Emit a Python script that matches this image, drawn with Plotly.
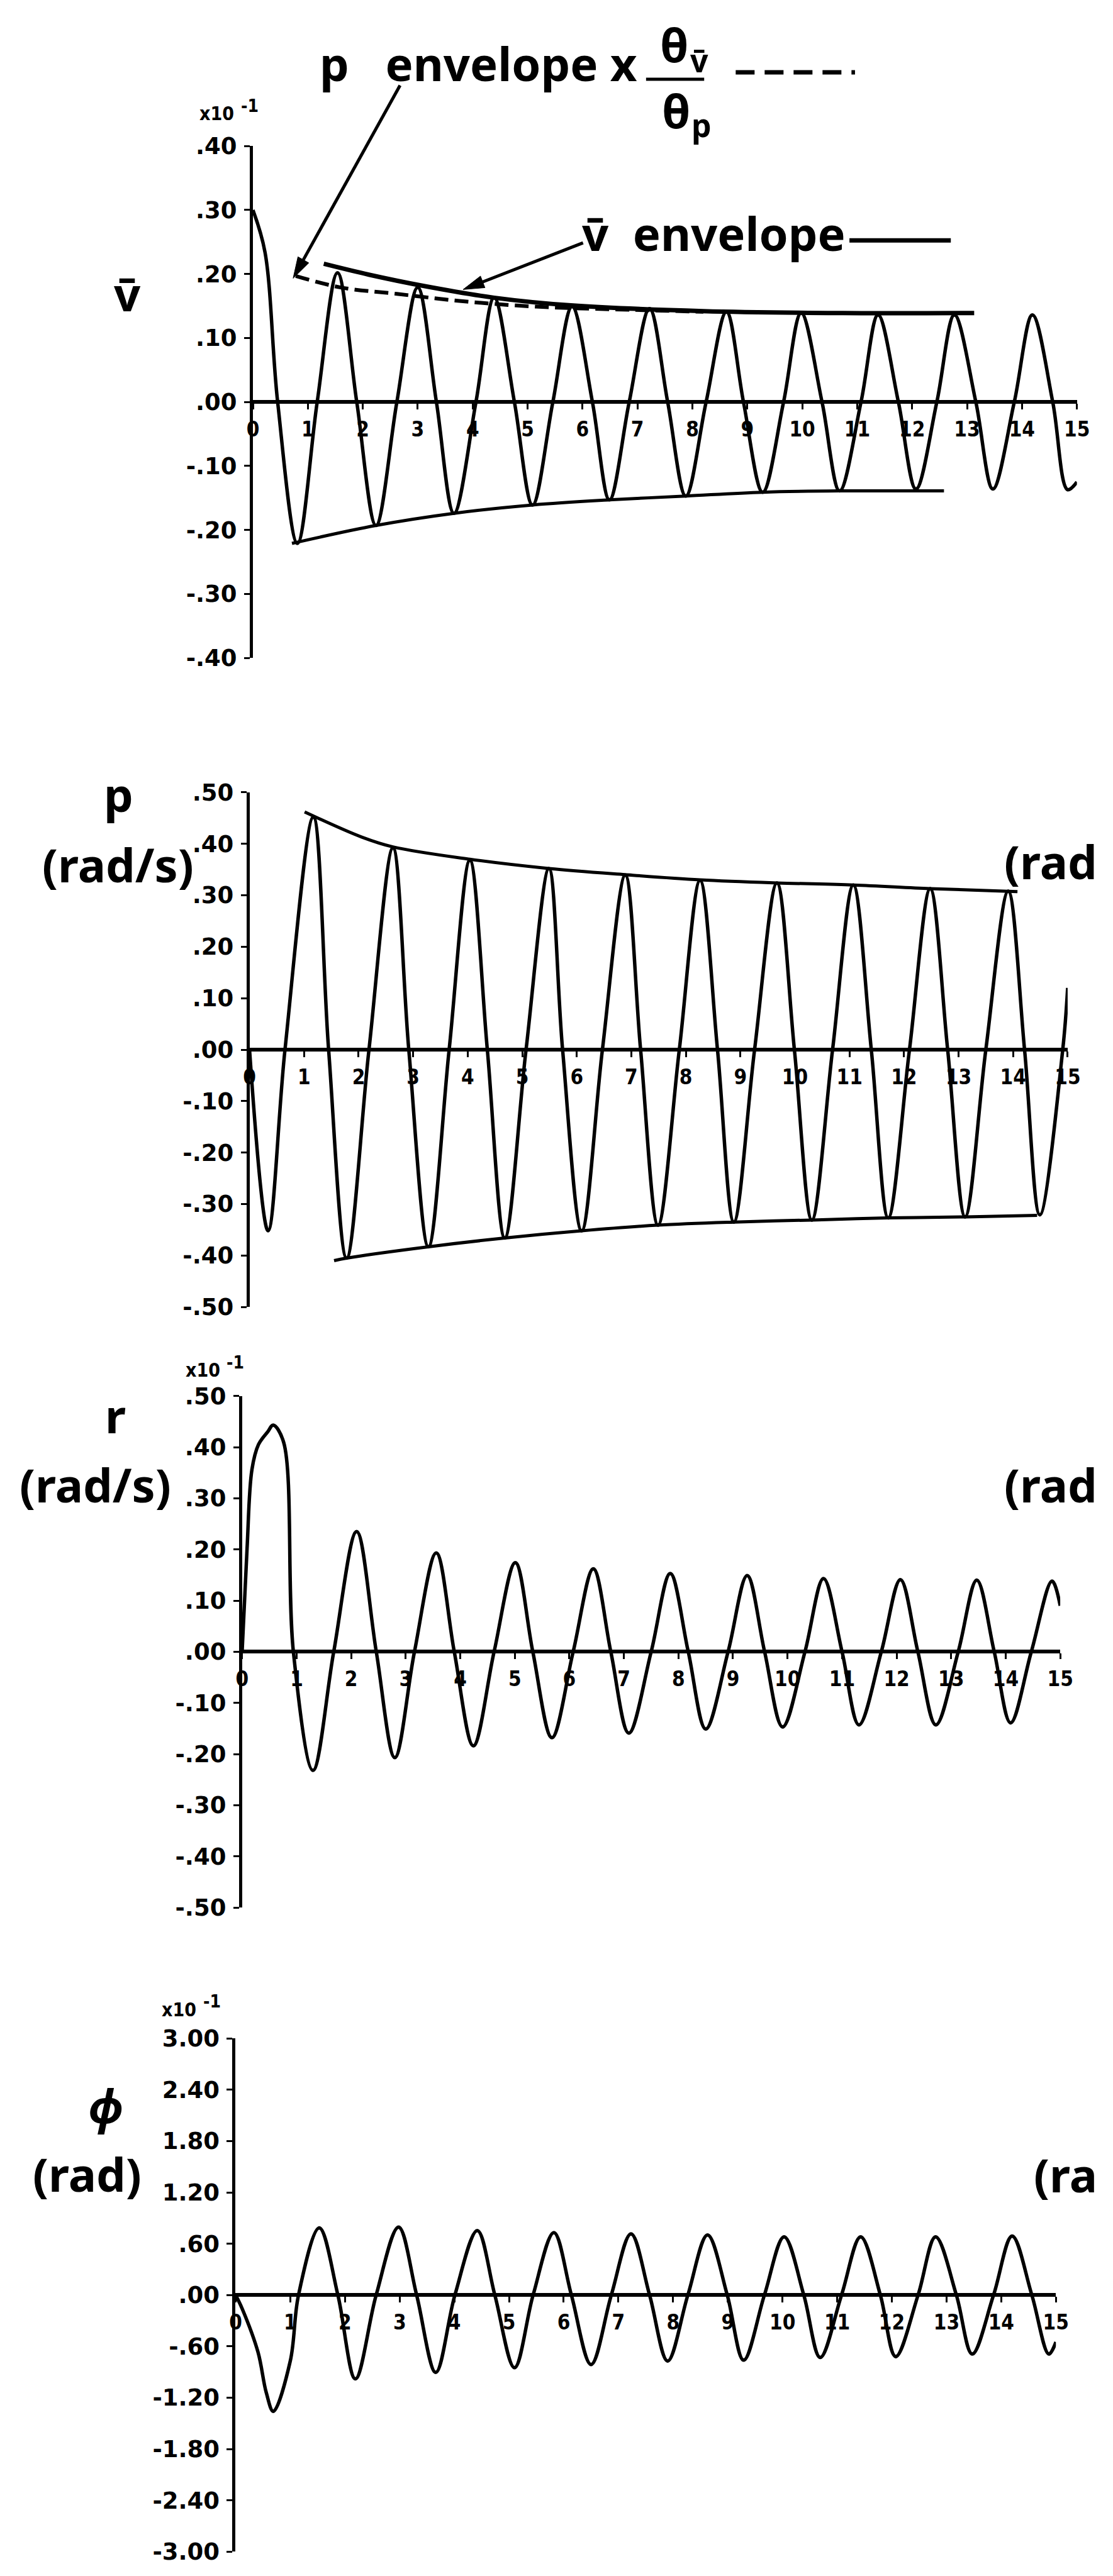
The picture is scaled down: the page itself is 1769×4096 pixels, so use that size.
import math
import plotly.graph_objects as go

W, H = 1769, 4096

# ---------------- tick labels ----------------
x_tick_vals = list(range(16))
x_tick_text = [str(v) for v in x_tick_vals]

vbar_tick_vals = [0.40, 0.30, 0.20, 0.10, 0.0, -0.10, -0.20, -0.30, -0.40]
vbar_tick_text = [".40", ".30", ".20", ".10", ".00", "-.10", "-.20", "-.30", "-.40"]

rate_tick_vals = [0.50, 0.40, 0.30, 0.20, 0.10, 0.0, -0.10, -0.20, -0.30, -0.40, -0.50]
rate_tick_text = [".50", ".40", ".30", ".20", ".10", ".00", "-.10", "-.20", "-.30", "-.40", "-.50"]

phi_tick_vals = [3.0, 2.4, 1.8, 1.2, 0.6, 0.0, -0.6, -1.2, -1.8, -2.4, -3.0]
phi_tick_text = ["3.00", "2.40", "1.80", "1.20", ".60", ".00", "-.60", "-1.20", "-1.80", "-2.40", "-3.00"]

# ---------------- v-bar response (x10^-1) ----------------
vbar_t = [0.00, 0.22, 0.45, 0.81, 1.17, 1.54, 1.89, 2.24, 2.62, 3.00, 3.34, 3.66, 4.06, 4.39,
          4.76, 5.09, 5.46, 5.81, 6.18, 6.49, 6.85, 7.22, 7.55, 7.88, 8.25, 8.62, 8.93, 9.28,
          9.66, 9.98, 10.36, 10.68, 11.07, 11.38, 11.75, 12.07, 12.45, 12.77, 13.16, 13.47,
          13.86, 14.19, 14.56, 14.83, 15.00]
vbar_v = [0.300, 0.234, 0.0, -0.221, 0.0, 0.202, 0.0, -0.193, 0.0, 0.179, 0.0, -0.174, 0.0, 0.163,
          0.0, -0.161, 0.0, 0.149, 0.0, -0.153, 0.0, 0.146, 0.0, -0.147, 0.0, 0.141, 0.0, -0.141,
          0.0, 0.139, 0.0, -0.139, 0.0, 0.136, 0.0, -0.136, 0.0, 0.136, 0.0, -0.136,
          0.0, 0.136, 0.0, -0.137, -0.125]

vbar_env_upper_t = [1.29, 2.11, 3.13, 4.39, 5.79, 8.20, 10.74, 13.13]
vbar_env_upper_v = [0.216, 0.199, 0.181, 0.163, 0.151, 0.142, 0.139, 0.139]

vbar_env_lower_t = [0.71, 2.24, 3.66, 5.09, 6.49, 7.88, 9.28, 10.68, 12.58]
vbar_env_lower_v = [-0.221, -0.193, -0.174, -0.161, -0.153, -0.147, -0.141, -0.139, -0.139]

# p envelope scaled by the ratio of the two amplitudes
p_scaled_env_t = [0.78, 1.60, 2.62, 3.76, 5.15, 6.93, 8.20]
p_scaled_env_v = [0.197, 0.179, 0.169, 0.158, 0.149, 0.144, 0.141]

# ---------------- roll rate p (rad/s) ----------------
p_t = [0.00, 0.34, 0.65, 1.17, 1.45, 1.78, 2.19, 2.63, 2.92, 3.28, 3.66, 4.04, 4.36, 4.68,
       5.07, 5.49, 5.74, 6.09, 6.47, 6.89, 7.17, 7.49, 7.88, 8.26, 8.58, 8.88, 9.26, 9.67,
       9.99, 10.31, 10.69, 11.07, 11.40, 11.71, 12.10, 12.48, 12.80, 13.12, 13.50, 13.91,
       14.21, 14.49, 14.91, 15.00]
p_v = [0.0, -0.352, 0.0, 0.452, 0.0, -0.405, 0.0, 0.392, 0.0, -0.383, 0.0, 0.368, 0.0, -0.366,
       0.0, 0.352, 0.0, -0.352, 0.0, 0.339, 0.0, -0.341, 0.0, 0.329, 0.0, -0.335, 0.0, 0.324,
       0.0, -0.331, 0.0, 0.320, 0.0, -0.327, 0.0, 0.313, 0.0, -0.325, 0.0, 0.308,
       0.0, -0.321, 0.0, 0.12]

p_env_upper_t = [1.01, 2.06, 2.63, 4.04, 5.49, 6.89, 8.26, 9.67, 11.07, 12.48, 14.08]
p_env_upper_v = [0.462, 0.413, 0.394, 0.370, 0.352, 0.340, 0.330, 0.324, 0.320, 0.313, 0.307]

p_env_lower_t = [1.55, 1.78, 3.28, 4.68, 6.09, 7.49, 8.88, 10.31, 11.71, 13.12, 14.44]
p_env_lower_v = [-0.410, -0.405, -0.383, -0.366, -0.352, -0.341, -0.335, -0.331, -0.327, -0.325, -0.322]

# ---------------- yaw rate r (x10^-1 rad/s) ----------------
r_t = [0.00, 0.09, 0.18, 0.30, 0.47, 0.57, 0.76, 0.94, 1.30, 1.68, 2.10, 2.46, 2.80, 3.16, 3.56,
       3.89, 4.24, 4.62, 5.01, 5.33, 5.68, 6.07, 6.44, 6.76, 7.09, 7.50, 7.85, 8.18, 8.50,
       8.91, 9.26, 9.58, 9.91, 10.32, 10.66, 11.00, 11.31, 11.72, 12.07, 12.39, 12.72,
       13.13, 13.47, 13.79, 14.09, 14.47, 14.85, 15.00]
r_v = [0.0, 0.20, 0.356, 0.405, 0.43, 0.443, 0.41, 0.0, -0.232, 0.0, 0.235, 0.0, -0.207, 0.0, 0.193,
       0.0, -0.184, 0.0, 0.174, 0.0, -0.168, 0.0, 0.162, 0.0, -0.159, 0.0, 0.153, 0.0, -0.151,
       0.0, 0.149, 0.0, -0.147, 0.0, 0.143, 0.0, -0.143, 0.0, 0.141, 0.0, -0.143,
       0.0, 0.140, 0.0, -0.139, 0.0, 0.138, 0.09]

# ---------------- roll angle phi (x10^-1 rad) ----------------
phi_t = [0.00, 0.12, 0.41, 0.56, 0.69, 1.00, 1.15, 1.53, 1.87, 2.19, 2.57, 2.98, 3.31, 3.66, 4.01,
         4.42, 4.74, 5.10, 5.44, 5.82, 6.14, 6.50, 6.87, 7.23, 7.57, 7.90, 8.27, 8.63, 8.99,
         9.29, 9.67, 10.03, 10.39, 10.69, 11.08, 11.43, 11.79, 12.07, 12.48, 12.80, 13.18,
         13.47, 13.86, 14.20, 14.56, 14.87, 15.00]
phi_v = [0.0, -0.16, -0.67, -1.14, -1.36, -0.77, 0.0, 0.785, 0.0, -0.98, 0.0, 0.795, 0.0, -0.905, 0.0,
         0.753, 0.0, -0.85, 0.0, 0.73, 0.0, -0.813, 0.0, 0.716, 0.0, -0.772, 0.0, 0.702, 0.0,
         -0.762, 0.0, 0.68, 0.0, -0.73, 0.0, 0.68, 0.0, -0.72, 0.0, 0.68, 0.0,
         -0.69, 0.0, 0.69, 0.0, -0.69, -0.55]

# ---------------- layout helpers (pixel boxes of the four plots) ----------------
boxes = [
    (399, 1732, 213.5, 1036),
    (393.5, 1717, 1252, 2079),
    (381.5, 1705, 2222, 3044),
    (371, 1698, 3254.5, 4079),
]
y_ranges = [0.40, 0.50, 0.50, 3.00]
y_ticks = [(vbar_tick_vals, vbar_tick_text), (rate_tick_vals, rate_tick_text),
           (rate_tick_vals, rate_tick_text), (phi_tick_vals, phi_tick_text)]


def px(x):
    return x / W


def py(y):
    return 1 - y / H


INK = "black"
LABEL_FONT = dict(family="Noto Sans", size=74, color=INK, weight="bold")
SUB_FONT = dict(family="Noto Sans", size=50, color=INK, weight="bold")
YTICK_FONT = dict(family="DejaVu Sans", size=37, color=INK, weight="bold")
XTICK_FONT = dict(family="DejaVu Sans Condensed", size=33, color=INK, weight="bold")
SCALE_FONT = dict(family="DejaVu Sans Condensed", size=30, color=INK, weight="bold")
EXP_FONT = dict(family="DejaVu Sans Condensed", size=28, color=INK, weight="bold")

fig = go.Figure()


def add_line(t, v, panel, width=5.5, dash="solid"):
    s = "" if panel == 1 else str(panel)
    fig.add_trace(go.Scatter(
        x=t, y=v, xaxis="x" + s, yaxis="y" + s, mode="lines",
        line=dict(color=INK, width=width, dash=dash, shape="spline", smoothing=1.0),
        showlegend=False, hoverinfo="skip"))


add_line(vbar_t, vbar_v, 1)
add_line(vbar_env_upper_t, vbar_env_upper_v, 1, width=7)
add_line(vbar_env_lower_t, vbar_env_lower_v, 1, width=5)
add_line(p_scaled_env_t, p_scaled_env_v, 1, width=6, dash="22px,10px")

add_line(p_t, p_v, 2)
add_line(p_env_upper_t, p_env_upper_v, 2, width=5)
add_line(p_env_lower_t, p_env_lower_v, 2, width=5)

add_line(r_t, r_v, 3)
add_line(phi_t, phi_v, 4)

layout_axes = {}
for i, (b, R, (tv, tt)) in enumerate(zip(boxes, y_ranges, y_ticks), start=1):
    s = "" if i == 1 else str(i)
    x0, x1, y0, y1 = b
    layout_axes["xaxis" + s] = dict(
        domain=[px(x0), px(x1)], range=[0, 15], anchor="free",
        position=py((y0 + y1) / 2),
        showline=True, linecolor=INK, linewidth=6,
        ticks="outside", ticklen=9, tickwidth=3, tickcolor=INK,
        tickvals=x_tick_vals, ticktext=x_tick_text, tickfont=XTICK_FONT,
        ticklabelstandoff=3,
        showgrid=False, zeroline=False, fixedrange=True)
    layout_axes["yaxis" + s] = dict(
        domain=[py(y1), py(y0)], range=[-R, R], anchor="x" + s,
        showline=True, linecolor=INK, linewidth=5,
        ticks="outside", ticklen=9, tickwidth=3, tickcolor=INK,
        tickvals=tv, ticktext=tt, tickfont=YTICK_FONT,
        ticklabelstandoff=4,
        showgrid=False, zeroline=False, fixedrange=True)

annotations = []


def text(x, y, s, font=LABEL_FONT, xanchor="center"):
    annotations.append(dict(x=px(x), y=py(y), xref="paper", yref="paper", text=s,
                            showarrow=False, xanchor=xanchor, yanchor="middle", font=font))


# axis titles
text(196, 450, "v\u0304")
text(182, 1255, "p")
text(181, 1368, "(rad/s)")
text(177, 2253, "r")
text(144, 2364, "(rad/s)")
text(161, 3362, "<i>\u03d5</i>")
text(131, 3472, "(rad)")

# scale factors above the axes: "x10" with a raised "-1"
for (mx, my), (ex, ey) in [((340, 161), (394, 149)),
                           ((318, 2180), (371, 2168)),
                           ((279, 3208), (333, 3195))]:
    text(mx, my, "x10", font=SCALE_FONT)
    text(ex, ey, "-1", font=EXP_FONT)

# labels of the neighbouring column, running into the page edge
text(1767, 1363, "(rad", xanchor="right")
text(1767, 2364, "(rad", xanchor="right")
text(1767, 3473, "(ra", xanchor="right")

# key for the envelopes
text(505, 80, "p   envelope x", xanchor="left")
text(1080, 50, "\u03b8")
text(1121, 76, "v\u0304", font=SUB_FONT)
text(1083, 156, "\u03b8")
text(1125, 180, "p", font=SUB_FONT)
text(929, 353, "v\u0304  envelope", xanchor="left")

shapes = [
    # fraction bar
    dict(type="line", xref="paper", yref="paper", x0=px(1035), x1=px(1129), y0=py(106), y1=py(106),
         line=dict(color=INK, width=5)),
    # dashed key sample
    dict(type="line", xref="paper", yref="paper", x0=px(1180), x1=px(1373), y0=py(95), y1=py(95),
         line=dict(color=INK, width=7, dash="30px,16px")),
    # solid key sample
    dict(type="line", xref="paper", yref="paper", x0=px(1364), x1=px(1528), y0=py(365), y1=py(365),
         line=dict(color=INK, width=7)),
]

# pointer arrows from the key text to the curves (pixel geometry)
HEAD_LEN, HEAD_HALF = 34, 10
for tip, tail in [((464, 426), (637, 116)), ((739, 444), (933, 369))]:
    dx, dy = tip[0] - tail[0], tip[1] - tail[1]
    n = math.hypot(dx, dy)
    ux, uy = dx / n, dy / n
    bx, by = tip[0] - ux * HEAD_LEN, tip[1] - uy * HEAD_LEN
    shapes.append(dict(type="line", xref="paper", yref="paper",
                       x0=px(tail[0]), y0=py(tail[1]), x1=px(bx), y1=py(by),
                       line=dict(color=INK, width=5)))
    lx, ly = bx - uy * HEAD_HALF, by + ux * HEAD_HALF
    rx, ry = bx + uy * HEAD_HALF, by - ux * HEAD_HALF
    path = "M {:.5f} {:.5f} L {:.5f} {:.5f} L {:.5f} {:.5f} Z".format(
        px(tip[0]), py(tip[1]), px(lx), py(ly), px(rx), py(ry))
    shapes.append(dict(type="path", xref="paper", yref="paper", path=path,
                       fillcolor=INK, line=dict(color=INK, width=1)))

fig.update_layout(
    width=W, height=H, margin=dict(l=0, r=0, t=0, b=0),
    paper_bgcolor="white", plot_bgcolor="white",
    showlegend=False, annotations=annotations, shapes=shapes,
    **layout_axes)

fig.write_html("out.html", config={"displayModeBar": False})
